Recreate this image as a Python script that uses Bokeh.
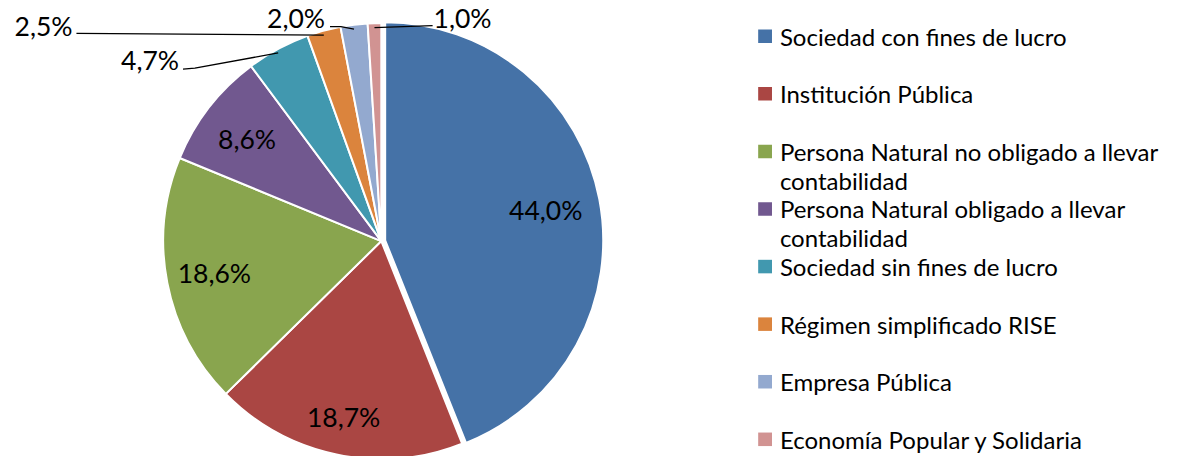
import math
from bokeh.plotting import figure
from bokeh.models import Range1d
from bokeh.embed import file_html
from bokeh.resources import INLINE
from bokeh.core.properties import value

# ---------------- data ----------------
categories = [
    "Sociedad con fines de lucro",
    "Institución Pública",
    "Persona Natural no obligado a llevar contabilidad",
    "Persona Natural obligado a llevar contabilidad",
    "Sociedad sin fines de lucro",
    "Régimen simplificado RISE",
    "Empresa Pública",
    "Economía Popular y Solidaria",
]
shares = [44.0, 18.7, 18.6, 8.6, 4.7, 2.5, 2.0, 1.0]
colors = ["#4572A7", "#AA4643", "#89A54E", "#71588F",
          "#4198AF", "#DB843D", "#93A9CF", "#D19392"]

# ---------------- layout (reference pixel coordinates) ----------------
W, H, M = 1190, 472, 8
FONT = "Lato"
LABEL_SIZE = "26.5px"
LEGEND_SIZE = "24px"
CX, CY, R = 386, 249, 221          # pie centre / radius
EXPLODE = 4                          # first slice pulled out
INSIDE_FRAC = [0.75, 0.84, 0.78, 0.78]
# outside labels: label anchor, alignment and leader-line elbow points
OUTSIDE = {
    4: dict(x=181, y=62, align="right", elbow=[(197, 70), (185, 71)]),
    5: dict(x=73, y=26, align="right", elbow=[(77, 34)]),
    6: dict(x=329, y=18, align="right", elbow=[(345, 27), (334, 27)]),
    7: dict(x=439, y=18, align="left", elbow=[(438, 26)]),
}
LEG_X, LEG_Y0, LEG_DY, LEG_SQ = 775, 37, 59.6, 14
LEG_LINE = 30


def fy(Y):
    return H - Y


p = figure(width=W - 2 * M, height=H - 2 * M,
           x_range=Range1d(0, W), y_range=Range1d(0, H),
           x_axis_type=None, y_axis_type=None, min_border=0,
           toolbar_location=None, output_backend="svg",
           outline_line_color=None, background_fill_color="white")
p.xgrid.visible = False
p.ygrid.visible = False

total = sum(shares)
cum = 0.0
for i, (v, c) in enumerate(zip(shares, colors)):
    f0, f1 = cum / total, (cum + v) / total
    cum += v
    a0 = math.pi / 2 - 2 * math.pi * f0
    a1 = math.pi / 2 - 2 * math.pi * f1
    mid = (a0 + a1) / 2
    off = EXPLODE if i == 0 else 0
    cx = CX + off * math.cos(mid)
    cy = fy(CY) + off * math.sin(mid)
    p.wedge(x=[cx], y=[cy], radius=R, start_angle=a1, end_angle=a0,
            direction="anticlock", fill_color=c, line_color="white",
            line_width=2)
    lab = f"{v:.1f}".replace(".", ",") + "%"
    if i in OUTSIDE:
        o = OUTSIDE[i]
        ex = CX + R * math.cos(mid)
        ey = fy(CY) + R * math.sin(mid)
        xs = [ex] + [pt[0] for pt in o["elbow"]]
        ys = [ey] + [fy(pt[1]) for pt in o["elbow"]]
        p.line(xs, ys, line_color="black", line_width=1.3)
        p.text(x=[o["x"]], y=[fy(o["y"])], text=[lab],
               text_font=value(FONT), text_font_size=LABEL_SIZE,
               text_align=o["align"], text_baseline="middle",
               text_color="black")
    else:
        d = INSIDE_FRAC[i] * R
        p.text(x=[cx + d * math.cos(mid)], y=[cy + d * math.sin(mid)],
               text=[lab], text_font=value(FONT),
               text_font_size=LABEL_SIZE,
               text_align="center", text_baseline="middle",
               text_color="black")


# legend
def wrap(s, n=36):
    if len(s) <= n:
        return [s]
    cut = s.rfind(" ", 0, n + 1)
    return [s[:cut], s[cut + 1:]]


for i, (name, c) in enumerate(zip(categories, colors)):
    yc = LEG_Y0 + i * LEG_DY
    p.rect(x=[LEG_X], y=[fy(yc)], width=LEG_SQ, height=LEG_SQ,
           fill_color=c, line_color=None)
    for k, line in enumerate(wrap(name)):
        p.text(x=[LEG_X + 15], y=[fy(yc + k * LEG_LINE)], text=[line],
               text_font=value(FONT), text_font_size=LEGEND_SIZE,
               text_align="left", text_baseline="middle",
               text_color="black")

open("out.html", "w").write(file_html(p, INLINE))
